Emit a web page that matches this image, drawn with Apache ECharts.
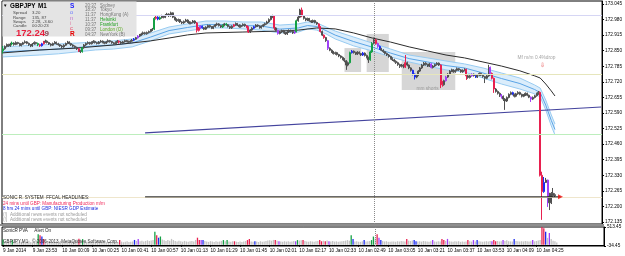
<!DOCTYPE html>
<html><head><meta charset="utf-8">
<script src="https://cdn.jsdelivr.net/npm/echarts@6/dist/echarts.min.js"></script>
<style>html,body{margin:0;padding:0;background:#fff}#c{width:625px;height:256px}</style>
</head><body><div id="c"></div>
<script>
// ---- DATA (prices in thousandths above PRICE_BASE; open of each bar = previous close) ----
const PRICE_BASE = 172;
const open0 = 850;
const closeMilli = [
858,868,875,870,878,882,876,884,880,872, 877,883,887,881,875,870,878,884,880,875,
871,879,886,890,884,878,873,880,885,879, 875,870,866,873,880,886,880,874,869,864,
858,850,846,862,874,880,884,879,885,889, 884,880,886,890,885,881,887,892,888,883,
879,885,890,886,882,887,892,889,885,890, 894,898,904,911,915,920,925,921,926,930,
936,940,985,990,982,988,995,990,998,1003, 996,1008,990,982,975,980,970,966,972,978,
970,964,968,974,966,935,945,952,946,940, 948,955,950,944,951,958,962,955,949,956,
962,958,951,945,952,958,963,957,950,955, 960,954,948,928,936,944,950,957,953,946,
952,958,963,970,980,990,996,945,935,922, 928,934,926,920,928,935,930,924,930,975,
990,1020,995,985,978,984,975,970,976,968, 962,950,930,915,905,892,860,852,845,838,
842,834,828,822,815,808,790,800,842,848, 842,836,844,838,832,840,830,822,812,845,
880,895,880,868,858,852,846,838,832,826, 818,812,806,800,792,785,790,782,800,790,
778,768,752,740,748,765,778,790,798,792, 786,795,780,786,792,798,790,720,708,725,
740,752,765,770,762,768,775,770,762,768, 772,745,738,745,752,746,740,748,755,748,
742,735,745,780,755,735,690,680,672,665, 660,648,640,655,668,675,668,660,670,676,
668,660,665,672,664,656,648,655,662,670, 676,330,262,300,310,240,215,255,245,249];
const highMilli = [
870,872,880,879,883,888,885,889,887,883, 881,887,893,890,884,878,882,889,887,884,
879,883,891,896,893,887,881,884,890,888, 883,878,874,877,884,891,889,883,877,872,
867,862,854,866,878,884,889,887,889,894, 892,887,890,895,893,888,891,897,895,891,
886,889,895,893,890,891,896,895,892,894, 899,903,908,915,920,925,930,929,930,934,
940,945,991,996,994,993,1000,999,1003,1008, 1006,1013,1010,993,985,984,982,973,976,983,
981,973,972,978,977,970,949,956,955,949, 952,959,958,953,955,962,967,965,958,960,
966,966,961,954,956,962,968,966,960,959, 964,963,957,952,940,948,954,961,960,956,
956,962,967,975,985,995,1000,999,948,938, 932,938,937,929,932,939,938,933,934,980,
995,1025,1030,998,988,988,987,978,980,979, 971,965,953,934,918,908,895,864,856,849,
846,845,837,831,826,819,811,805,846,853, 851,846,848,847,841,845,843,834,825,850,
886,905,900,884,872,862,856,849,842,836, 829,822,816,810,804,796,795,794,832,804,
793,781,771,755,752,769,782,795,803,802, 796,799,798,790,796,802,801,793,724,729,
745,756,769,775,773,772,780,778,773,772, 777,775,749,749,756,755,750,752,759,758,
751,745,749,791,784,759,738,694,684,676, 669,663,652,659,672,680,679,671,674,681,
679,671,669,676,675,667,659,659,666,675, 682,680,345,323,319,312,257,260,277,255];
const lowMilli = [
838,854,864,866,866,872,871,873,876,868, 868,874,880,877,870,865,866,875,876,869,
866,867,876,883,880,874,868,870,877,875, 871,866,861,862,870,877,876,870,864,859,
853,845,840,842,858,870,876,875,876,882, 880,876,877,883,881,877,878,884,884,879,
875,876,882,880,878,879,884,885,881,882, 887,890,895,900,907,912,916,917,917,922,
926,932,936,980,977,978,984,985,986,994, 991,992,986,977,970,971,966,961,962,968,
966,960,960,964,962,926,930,941,942,936, 937,944,946,940,940,947,954,951,945,945,
952,954,947,941,941,948,954,953,946,946, 951,950,944,924,924,932,940,946,949,942,
942,948,954,959,966,976,986,936,930,917, 918,924,922,916,916,924,926,920,920,926,
971,986,990,980,973,974,971,966,966,964, 958,946,926,911,900,887,853,848,841,834,
833,830,823,817,810,802,770,785,796,838, 838,832,832,834,828,828,826,818,799,808,
841,876,875,862,853,848,841,834,828,821, 813,807,801,795,787,778,780,777,778,785,
773,763,747,730,735,744,761,774,786,788, 782,782,776,776,782,788,786,694,700,704,
721,736,748,761,758,758,764,766,758,758, 764,728,733,734,741,742,736,736,744,744,
737,715,731,741,750,730,674,675,667,657, 650,640,603,636,651,664,664,655,656,666,
664,655,656,661,660,652,636,644,651,658, 666,325,144,257,298,198,185,210,240,238];
// PVA class of each bar: '.' normal, r red, G green, b blue, p purple
const pvaCodes = [
"G....G....",".........G","rbr.......","..........",".r.G......","..........",
"...r......",".b.p......","..GrbG....","..........",".....rrpb.",".........G",
".G...r....","..rr..b...",".......r.p","........pG","..r.......",".rr.r.p...",
"........Gb",".....b...G","G.rpb.....","........r.","..bb......","..p....rr.",
"p.........",".r..p.b...","....prr...","p.....b...","......p...",".rrb.p...."];
const volume = [
150,95,80,110,70,140,130,85,75,100, 88,105,72,94,118,80,66,98,125,306,
272,238,170,110,92,78,101,86,70,96, 84,112,90,76,104,88,70,95,118,130,
150,175,120,165,108,86,92,74,100,82, 70,96,88,78,105,90,72,84,98,76,
88,102,80,140,92,74,86,100,78,90, 96,140,110,170,104,120,98,112,130,108,
125,140,375,272,205,240,150,130,112,140, 120,170,135,110,98,120,104,90,112,96,
88,102,110,96,140,205,140,136,136,110, 98,84,106,92,80,100,88,96,110,136,
104,136,92,86,100,102,90,78,96,84, 92,108,136,170,98,86,102,94,80,104,
90,96,110,124,130,118,140,136,120,102, 96,88,104,92,100,86,94,108,102,136,
124,130,136,112,98,90,104,96,88,100, 110,136,102,118,102,124,102,96,110,92,
100,88,96,104,112,120,136,118,272,170, 98,104,90,86,100,136,92,104,110,136,
238,180,306,204,136,110,96,104,90,86, 98,92,88,104,96,110,100,94,170,120,
110,124,136,102,98,104,92,110,100,96, 88,102,136,96,90,104,98,170,136,112,
170,102,96,88,100,92,104,86,98,90, 96,136,104,92,136,98,136,100,92,88,
96,104,92,110,102,136,102,110,96,100, 136,110,130,104,98,96,170,110,100,92,
104,96,110,100,92,104,136,98,110,124, 136,513,480,380,200,340,170,120,100,70];
// slow moving average (read at sampled bars)
const maIdx  = [0,20,40,60,80,90,100,110,130,150,160,170,180,190,200,210,220,230,240,250,260,270,280,288,291,294,297,299];
const maSlow = [841,853,861,874,891,903,916,924,928,932,936,945,941,924,903,886,866,849,832,820,803,786,766,745,736,711,682,661];
// blue envelope band (read at sampled bars)
const bandIdx = [0,10,20,30,40,50,60,70,80,90,100,110,120,130,140,150,160,165,170,175,180,190,200,210,220,230,240,250,260,270,280,288,291,294,297,299];
const bandHi  = [866,870,874,878,882,886,891,899,924,949,962,974,974,970,970,957,962,970,966,949,932,907,882,857,832,820,807,795,778,757,736,707,694,644,582,544];
const bandMid = [845,849,853,857,863,870,874,882,907,934,947,959,959,955,953,940,945,955,951,934,915,888,865,840,817,803,788,778,757,734,713,688,675,623,559,521];
const bandLo  = [824,828,832,837,845,853,857,866,891,920,932,945,945,941,936,924,928,941,936,920,899,870,849,824,803,786,770,761,736,711,690,670,657,603,536,498];
// horizontal levels, trend line, boxes, annotations
const levelLavender = 173.003, levelYellow = 172.753, levelGreen = 172.503;
const lastPrice = 172.249, hLinePrice = 172.240, hLineFrom = 77, hLineTo = 302;
const trendLine = [[77, 172.507], [324, 172.615]];
const boxes = [[185, 172.761, 194, 172.861], [197, 172.761, 209, 172.920], [216, 172.686, 245, 172.845]];
const volBox = [186, -34.45, 191, 300];
const vLineIdx = 201;
const notes = [[230, 172.690, "mm shorts"], [289, 172.820, "Mf m/m 0.4%drop"]];
const arrowNote = [292, 172.791, "\u21E9"];
const priceTicks = [173.045,172.980,172.915,172.850,172.785,172.720,172.655,172.590,172.525,172.460,172.395,172.330,172.265,172.200,172.135];
const volTicks = [513.45, -34.45];
const timeLabels = ["9 Jan 2014","9 Jan 23:53","10 Jan 00:09","10 Jan 00:25","10 Jan 00:41","10 Jan 00:57","10 Jan 01:13","10 Jan 01:29","10 Jan 01:45","10 Jan 02:01","10 Jan 02:17","10 Jan 02:33","10 Jan 02:49","10 Jan 03:05","10 Jan 03:21","10 Jan 03:37","10 Jan 03:53","10 Jan 04:09","10 Jan 04:25"];
const LABEL_STEP = 16;
const N_CAT = 325;
const infoStats = [["Spread","3.20"],["Range","135, 87"],["Swaps","2.28, -3.60"],["Candle","00:20:23"]];
const sessions = [["20:37","Sydney"],["18:37","Tokyo"],["11:37","HongKong (A)"],["11:37","Helsinki"],["10:37","Frankfurt"],["09:37","London (O)"],["04:37","NewYork (B)"]];
const headlines = ["SONIC R. SYSTEM  FFCAL HEADLINES:","24 mins until GBP: Manufacturing Production m/m","8 hrs 24 mins until GBP: NIESR GDP Estimate","(!)  Additional news events not scheduled","(!)  Additional news events not scheduled"];

// ---- BUILD ----
const FF = '"Liberation Sans", Arial, sans-serif';
const P = v => +(PRICE_BASE + v / 1000).toFixed(3);
const pva = pvaCodes.join('');
const candleCol = {'.':'#505050', r:'#e8204f', G:'#14a044', b:'#1c2cf0', p:'#a040f8'};
const volCol = {'.':'#c4c4c4', r:'#e8204f', G:'#14a044', b:'#1c2cf0', p:'#a040f8'};
const cats = Array.from({length: N_CAT}, (_, i) => String(i));
const candles = closeMilli.map((c, i) => {
  const o = i === 0 ? open0 : closeMilli[i - 1];
  const col = candleCol[pva[i]];
  return {value: [P(o), P(c), P(lowMilli[i]), P(highMilli[i])],
    itemStyle: {color: col, color0: col, borderColor: col, borderColor0: col}};
});
const vols = volume.map((v, i) => ({value: v, itemStyle: {color: volCol[pva[i]]}}));
const pairs = (idx, arr) => idx.map((x, k) => [x, P(arr[k])]);
const showTick = i => i % LABEL_STEP === 0 && i / LABEL_STEP < timeLabels.length;

function T(x, y, s, font, fill) {
  return {type: 'text', z: 101, silent: true, style: {x, y, text: s, font, fill, align: 'left', verticalAlign: 'middle'}};
}
const graphics = [
  {type: 'rect', z: 50, silent: true, shape: {x: 0, y: 224, width: 604, height: 2}, style: {fill: '#8e8e8e'}},
  {type: 'rect', z: 100, silent: true, shape: {x: 2.5, y: 1.5, width: 134, height: 35}, style: {fill: '#e4e4e4'}},
  T(3, 5.5, '\u25BC', '4.5px ' + FF, '#000'),
  T(10, 6.2, 'GBPJPY', 'bold 6.3px ' + FF, '#000'),
  T(38, 6.2, 'M1', 'bold 6.3px ' + FF, '#000'),
  T(16, 33, '172.24', 'bold 9.5px ' + FF, '#e81e3c'),
  T(44.5, 33.3, '9', 'bold 8px ' + FF, '#8a4a56'),
];
const sonic = [['S', 6, '#1a1aff', 'bold 6.5px '], ['o', 12.8, '#6a78ff', '5.8px '], ['n', 18.6, '#c070d0', '5.8px '],
  ['i', 23.8, '#e080a8', '5.8px '], ['c', 28.6, '#e84868', '5.8px '], ['R', 34, '#e80000', 'bold 6.5px ']];
sonic.forEach(s => graphics.push(T(70, s[1], s[0], s[3] + FF, s[2])));
infoStats.forEach((r, k) => {
  graphics.push(T(13, 13.3 + k * 4.1, r[0], '4.3px ' + FF, '#444'));
  graphics.push(T(32, 13.3 + k * 4.1, r[1], '4.3px ' + FF, '#444'));
});
const sessCol = ['#777', '#777', '#777', '#1ea01e', '#1ea01e', '#58a820', '#777'];
sessions.forEach((r, k) => {
  const y = 5.3 + k * 4.95;
  graphics.push(T(85, y, r[0], '4.5px ' + FF, '#777'));
  graphics.push(T(100, y, r[1], '4.5px ' + FF, sessCol[k]));
});
const headCol = ['#222', '#f0285a', '#1e2ee0', '#9a9a9a', '#9a9a9a'];
const headY = [197.3, 204, 209.2, 214.5, 219.3];
headlines.forEach((s, k) => graphics.push(T(3, headY[k], s, '4.6px ' + FF, headCol[k])));
graphics.push(T(3, 230.7, 'SonicR PVA     Alert On', '4.6px ' + FF, '#222'));
graphics.push(T(3, 241.8, 'GBPJPY,M1   \u00A9 2006-2013, MetaQuotes Software Corp.', '4.6px ' + FF, '#333'));

const chart = echarts.init(document.getElementById('c'), null, {renderer: 'canvas'});
chart.setOption({
  animation: false,
  textStyle: {fontFamily: FF},
  grid: [
    {left: 2, right: 21, top: 1, height: 223, show: true, borderColor: '#000', borderWidth: 1},
    {left: 2, right: 21, top: 227, height: 19, show: true, borderColor: '#000', borderWidth: 1}
  ],
  xAxis: [
    {type: 'category', gridIndex: 0, data: cats, boundaryGap: true, show: false},
    {type: 'category', gridIndex: 1, data: cats, boundaryGap: true,
      axisLine: {show: true, lineStyle: {color: '#000', width: 1}},
      axisTick: {show: true, alignWithLabel: true, interval: showTick, length: 2, lineStyle: {color: '#000'}},
      axisLabel: {interval: showTick, formatter: (v, i) => timeLabels[i / LABEL_STEP], align: 'left',
        fontSize: 4.7, color: '#000', margin: 2.5, fontFamily: FF}}
  ],
  yAxis: [
    {type: 'value', gridIndex: 0, position: 'right', min: 172.1267, max: 173.0575, splitLine: {show: false},
      axisLine: {show: true, lineStyle: {color: '#000'}},
      axisTick: {show: true, customValues: priceTicks, length: 2, lineStyle: {color: '#000'}},
      axisLabel: {customValues: priceTicks, formatter: v => v.toFixed(3), fontSize: 4.7, color: '#000', margin: 3, fontFamily: FF}},
    {type: 'value', gridIndex: 1, position: 'right', min: -34.45, max: 513.45, splitLine: {show: false},
      axisLine: {show: true, lineStyle: {color: '#000'}},
      axisTick: {show: true, customValues: volTicks, length: 2, lineStyle: {color: '#000'}},
      axisLabel: {customValues: volTicks, formatter: v => v.toFixed(2), fontSize: 4.7, color: '#000', margin: 3, fontFamily: FF}}
  ],
  series: [
    {type: 'line', xAxisIndex: 0, yAxisIndex: 0, data: [], z: 1, silent: true,
      markArea: {silent: true, itemStyle: {color: '#d6d6d6'},
        data: boxes.map(b => [{xAxis: b[0], yAxis: b[1]}, {xAxis: b[2], yAxis: b[3]}])},
      markLine: {silent: true, symbol: 'none', label: {show: false}, animation: false,
        data: [
          {yAxis: levelLavender, lineStyle: {color: '#d6d6f4', width: 1, type: 'solid'}},
          {yAxis: levelYellow, lineStyle: {color: '#e6e6bc', width: 1, type: 'solid'}},
          {yAxis: levelGreen, lineStyle: {color: '#bdeebd', width: 1, type: 'solid'}},
          {yAxis: hLinePrice, lineStyle: {color: '#efe6cc', width: 1, type: 'solid'}},
          {xAxis: vLineIdx, lineStyle: {color: '#8a8a8a', width: 1, type: 'dotted'}}
        ]}},
    {type: 'custom', xAxisIndex: 0, yAxisIndex: 0, z: 2, silent: true, data: [0],
      renderItem: (params, api) => {
        const top = bandIdx.map((x, k) => api.coord([x, P(bandHi[k])]));
        const bot = bandIdx.map((x, k) => api.coord([x, P(bandLo[k])])).reverse();
        return {type: 'polygon', shape: {points: top.concat(bot)}, style: {fill: '#dbedfb'}};
      }},
    {type: 'line', xAxisIndex: 0, yAxisIndex: 0, z: 3, silent: true, symbol: 'none', data: pairs(bandIdx, bandHi), lineStyle: {color: '#98cbf1', width: 1}},
    {type: 'line', xAxisIndex: 0, yAxisIndex: 0, z: 3, silent: true, symbol: 'none', data: pairs(bandIdx, bandLo), lineStyle: {color: '#98cbf1', width: 1}},
    {type: 'line', xAxisIndex: 0, yAxisIndex: 0, z: 3, silent: true, symbol: 'none', data: pairs(bandIdx, bandMid), lineStyle: {color: '#5aa4e6', width: 1}},
    {type: 'line', xAxisIndex: 0, yAxisIndex: 0, z: 3, silent: true, symbol: 'none', data: pairs(maIdx, maSlow), lineStyle: {color: '#2c2c2c', width: 1}},
    {type: 'line', xAxisIndex: 0, yAxisIndex: 0, z: 3, silent: true, symbol: 'none', data: trendLine, lineStyle: {color: '#44449e', width: 1.2}},
    {type: 'candlestick', xAxisIndex: 0, yAxisIndex: 0, z: 4, silent: true, barWidth: 1.5, data: candles,
      itemStyle: {borderWidth: 1},
      markLine: {silent: true, symbol: 'none', animation: false,
        data: [{yAxis: lastPrice, lineStyle: {opacity: 0},
          label: {show: true, position: 'end', distance: 1, formatter: lastPrice.toFixed(3), color: '#fff',
            backgroundColor: '#000', padding: [0.5, 1.5], fontSize: 4.7, fontFamily: FF}}]}},
    {type: 'line', xAxisIndex: 0, yAxisIndex: 0, z: 5, silent: true, symbol: 'none',
      data: [[hLineFrom, hLinePrice], [hLineTo, hLinePrice]], lineStyle: {color: '#1a1a1a', width: 1}},
    {type: 'scatter', xAxisIndex: 0, yAxisIndex: 0, z: 6, silent: true, symbol: 'triangle', symbolRotate: -90,
      symbolSize: [5, 5], itemStyle: {color: '#f01010'}, data: [[hLineTo, hLinePrice]]},
    {type: 'scatter', xAxisIndex: 0, yAxisIndex: 0, z: 6, silent: true, symbol: 'circle', symbolSize: 1,
      itemStyle: {color: 'rgba(0,0,0,0)'},
      data: notes.map(n => ({value: [n[0], n[1]], label: {show: true, position: 'inside', formatter: n[2],
        fontSize: 4.8, color: '#8c8c8c', fontFamily: FF}}))
        .concat([{value: [arrowNote[0], arrowNote[1]], label: {show: true, position: 'inside', formatter: arrowNote[2],
          fontSize: 6, color: '#e01818'}}])},
    {type: 'bar', xAxisIndex: 1, yAxisIndex: 1, z: 3, silent: true, barWidth: 1.3, data: vols,
      markArea: {silent: true, itemStyle: {color: '#d6d6d6'},
        data: [[{xAxis: volBox[0], yAxis: volBox[1]}, {xAxis: volBox[2], yAxis: volBox[3]}]]},
      markLine: {silent: true, symbol: 'none', label: {show: false}, animation: false,
        data: [{xAxis: vLineIdx, lineStyle: {color: '#8a8a8a', width: 1, type: 'dotted'}}]}}
  ],
  graphic: graphics
});
</script></body></html>
